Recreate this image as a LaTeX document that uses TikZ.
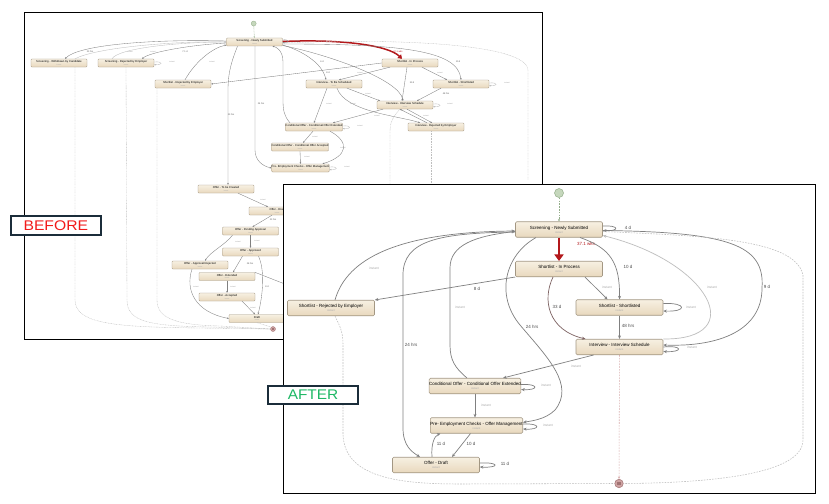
\documentclass[tikz,border=0pt]{standalone}
\usepackage{fontspec}
\setmainfont{Liberation Sans}
\usetikzlibrary{arrows.meta}
\definecolor{boxtop}{HTML}{F7F0E2}
\definecolor{boxbot}{HTML}{E8D8BD}
\definecolor{boxline}{HTML}{A39783}
\definecolor{edgec}{HTML}{808080}
\definecolor{lightc}{HTML}{BEBEBE}
\definecolor{brownc}{HTML}{7D6262}
\definecolor{instc}{HTML}{AAAAAA}
\definecolor{redc}{HTML}{B3181B}
\definecolor{navy}{HTML}{1B2D3A}
\definecolor{beforered}{HTML}{F21B1B}
\definecolor{aftergreen}{HTML}{1EB865}
\definecolor{startfill}{HTML}{C5D7BC}
\definecolor{startline}{HTML}{93AD89}
\definecolor{endfill}{HTML}{CFA3A3}
\definecolor{endline}{HTML}{A07272}
\definecolor{pinkd}{HTML}{D9AFAF}
\newcommand\atxt[1]{#1\\[-1.2pt]{\fontsize{2.6}{3}\selectfont\color{instc}instant}}
\newcommand\btxt[1]{#1\\[-0.8pt]{\fontsize{1.6}{2}\selectfont\color{instc}instant}}
\begin{document}
\begin{tikzpicture}[x=1pt,y=-1pt,
  panel/.style={draw=black,line width=0.9pt,fill=white,inner sep=0pt},
  tagbox/.style={draw=navy,line width=2.2pt,fill=white,inner sep=0pt,minimum width=90pt,minimum height=18.5pt,font=\fontsize{14}{16}\selectfont},
  abox/.style={rectangle,rounded corners=1.3pt,draw=boxline,line width=0.55pt,top color=boxtop,bottom color=boxbot,minimum width=87pt,minimum height=15.5pt,inner sep=0pt,align=center,font=\fontsize{4.5}{5.4}\selectfont},
  bbox/.style={rectangle,rounded corners=0.8pt,draw=boxline,line width=0.35pt,top color=boxtop,bottom color=boxbot,minimum width=56pt,minimum height=8pt,inner sep=0pt,align=center,font=\fontsize{2.8}{3.2}\selectfont},
  startn/.style={circle,draw=startline,fill=startfill,line width=0.5pt,minimum size=9pt,inner sep=0pt},
  endn/.style={circle,draw=endline,fill=endfill,line width=0.5pt,minimum size=8.5pt,inner sep=0pt},
  bstartn/.style={startn,minimum size=5pt,line width=0.3pt},
  bendn/.style={endn,minimum size=5pt,line width=0.3pt},
  ae/.style={draw=edgec,line width=0.7pt,-{Stealth[length=3.6pt,width=3pt]}},
  ale/.style={ae,draw=lightc},
  alab/.style={font=\fontsize{4.5}{5}\selectfont,text=black!70,inner sep=0.5pt},
  ilab/.style={font=\fontsize{3.3}{4}\selectfont,text=instc,inner sep=0.5pt},
  adash/.style={draw=lightc,line width=0.55pt,dash pattern=on 1.6pt off 1.2pt},
  redarrow/.style={draw=redc,line width=2.8pt,-{Triangle[length=6.5pt,width=9pt]}},
  be/.style={draw=edgec,line width=0.35pt,-{Stealth[length=1.9pt,width=1.6pt]}},
  ble/.style={be,draw=lightc},
  blab/.style={font=\fontsize{2.3}{2.6}\selectfont,text=black!65,inner sep=0.3pt},
  bilab/.style={font=\fontsize{1.9}{2.2}\selectfont,text=instc,inner sep=0.3pt},
  bdash/.style={draw=lightc,line width=0.35pt,dash pattern=on 0.9pt off 0.7pt},
  bred/.style={draw=redc,line width=1.5pt,-{Triangle[length=3.8pt,width=5pt]}}
]
\useasboundingbox (0,0) rectangle (829,503);

%================ BEFORE panel ================
\node[panel,minimum width=518pt,minimum height=327pt] (bp) at (283,175.5) {};

\node[bstartn] (bst) at (253.7,23.5) {};
\node[bbox] (bscr) at (254.5,42) {\btxt{Screening - Newly Submitted}};
\node[bbox] (bwd) at (59,63) {\btxt{Screening - Withdrawn by Candidate}};
\node[bbox] (bsre) at (126,63) {\btxt{Screening - Rejected by Employer}};
\node[bbox] (bshr) at (183,84) {\btxt{Shortlist - Rejected by Employer}};
\node[bbox] (bsip) at (410,63) {\btxt{Shortlist - In Process}};
\node[bbox] (bits) at (334,84) {\btxt{Interview - To Be Scheduled}};
\node[bbox] (bssl) at (461,84) {\btxt{Shortlist - Shortlisted}};
\node[bbox] (bivs) at (405,105) {\btxt{Interview - Interview Schedule}};
\node[bbox] (bcoe) at (314,127) {\btxt{Conditional Offer - Conditional Offer Extended}};
\node[bbox] (bire) at (436,127) {\btxt{Interview - Rejected by Employer}};
\node[bbox] (bcoa) at (300,147) {\btxt{Conditional Offer - Conditional Offer Accepted}};
\node[bbox] (bpec) at (300.5,168) {\btxt{Pre- Employment Checks - Offer Management}};
\node[bbox] (bofc) at (226,189) {\btxt{Offer - To be Created}};
\node[bbox] (bof2) at (277,211) {\btxt{Offer - Draft}};
\node[bbox] (bopa) at (250.5,231) {\btxt{Offer - Pending Approval}};
\node[bbox] (boap) at (250.5,252) {\btxt{Offer - Approved}};
\node[bbox] (boar) at (200,265) {\btxt{Offer - Approval Rejected}};
\node[bbox] (boex) at (227,276.5) {\btxt{Offer - Extended}};
\node[bbox] (boac) at (227,297) {\btxt{Offer - Accepted}};
\node[bbox] (bdr) at (257,318.5) {\btxt{Draft}};
\node[bendn] (bend) at (273,329) {};
\fill[endline] ([xshift=-1pt,yshift=-1pt]bend.center) rectangle ([xshift=1pt,yshift=1pt]bend.center);

\draw[bdash,draw=startline,-{Stealth[length=1.5pt,width=1.3pt]}] (bst) -- (bscr);
\draw[be] ([yshift=1pt]bscr.west) .. controls (150,39) and (78,45) .. ([xshift=6pt]bwd.north) node[blab,at={(90,52)}]{23 hrs};
\draw[be] ([yshift=-1pt]bscr.west) .. controls (190,45) and (150,52) .. ([xshift=16pt]bsre.north) node[blab,at={(185,52)}]{7.1 d};
\draw[ble] ([xshift=16pt]bwd.north) .. controls (95,48) and (170,41) .. (bscr.west) node[bilab,at={(130,52)}]{instant};
\draw[ble] ([xshift=-14pt]bsre.north) .. controls (118,48) and (180,42) .. (bscr.west) node[bilab,at={(153,52)}]{instant};
\draw[ble] ([yshift=1pt]bsre.east) .. controls +(9,-1) and +(9,1) .. ([yshift=-1.5pt]bsre.east) node[bilab,at={(172,62)}]{instant};
\draw[be] ([xshift=2pt]bshr.north) .. controls (195,62) and (212,48) .. ([yshift=-3pt]bscr.west) node[bilab,at={(212,62)}]{instant};
\draw[be] (bsip.west) -- (bshr.east) node[blab,at={(328,73)}]{8 d};
\draw[be] ([xshift=0.5pt]bscr.south) -- (255,150) .. controls (255,160) and (262,166) .. (bpec.west) node[blab,at={(261,104)}]{24 hrs};
\draw[be] ([xshift=-17pt]bscr.south) .. controls (233,58) and (228,70) .. (228,90) -- ([xshift=2pt]bofc.north) node[blab,at={(231,115)}]{23 hrs};
\draw[bred] ([yshift=0.5pt]bscr.east) .. controls (340,39) and (388,45) .. ([xshift=-8pt]bsip.north) node[blab,text=redc,at={(398,52)}]{37.1 wks};
\draw[be] ([yshift=2pt]bscr.east) .. controls +(7,-1) and +(7,1) .. ([yshift=-0.5pt]bscr.east) node[blab,at={(297,42)}]{4 d};
\draw[be] ([yshift=-2pt]bscr.east) .. controls (400,44) and (458,50) .. (bssl.north) node[blab,at={(458,62)}]{10 d};
\draw[be] ([yshift=-3pt]bscr.east) .. controls (300,50) and (322,62) .. ([xshift=-8pt]bits.north) node[blab,at={(322,62)}]{6 d};
\draw[be] ([yshift=-3.5pt]bscr.east) .. controls (330,55) and (400,80) .. ([xshift=-2pt]bivs.north);
\draw[bdash] ([yshift=-1pt]bscr.east) .. controls (400,38) and (527,44) .. (528,70) -- (528,180);
\draw[be] ([xshift=-20pt]bsip.south) -- ([xshift=5pt]bits.north) node[bilab,at={(360,73)}]{instant};
\draw[be] ([xshift=12pt]bsip.south) -- ([xshift=-14pt]bssl.north) node[bilab,at={(440,73)}]{instant};
\draw[be] ([xshift=-3pt]bsip.south) -- ([xshift=-3pt]bivs.north) node[blab,at={(412,83)}]{33 d};
\draw[be] ([xshift=-20pt]bssl.south) -- ([xshift=12pt]bivs.north) node[blab,at={(446,94)}]{48 hrs};
\draw[ble] ([yshift=1pt]bssl.east) .. controls +(9,-1) and +(9,1) .. ([yshift=-1.5pt]bssl.east) node[bilab,at={(507,83)}]{instant};
\draw[be] ([xshift=13pt]bits.south) -- ([xshift=-25pt]bivs.north) node[bilab,at={(368,94)}]{instant};
\draw[be] ([xshift=-7pt]bits.south) -- (bcoe.north) node[bilab,at={(329,104)}]{instant};
\draw[be] ([xshift=3pt]bits.south) .. controls (345,112) and (400,116) .. ([xshift=-16pt]bire.north) node[bilab,at={(353,104)}]{instant};
\draw[be] ([xshift=-22pt]bivs.south) -- ([xshift=19pt]bcoe.north) node[bilab,at={(377,116)}]{instant};
\draw[be] ([xshift=2pt]bivs.south) -- ([xshift=-4pt]bire.north) node[bilab,at={(426,116)}]{instant};
\draw[be] ([xshift=-9pt]bire.north) -- ([xshift=-5pt]bivs.south);
\draw[ble] ([yshift=1pt]bivs.east) .. controls +(9,-1) and +(9,1) .. ([yshift=-1.5pt]bivs.east) node[bilab,at={(450,104)}]{instant};
\draw[ble] ([yshift=1pt]bcoe.east) .. controls +(9,-1) and +(9,1) .. ([yshift=-1.5pt]bcoe.east) node[bilab,at={(360,126)}]{instant};
\draw[be] ([xshift=-1pt]bcoe.south) -- ([xshift=3pt]bcoa.north) node[bilab,at={(315,137)}]{instant};
\draw[be] (bcoa.south) -- (bpec.north) node[bilab,at={(307,157)}]{instant};
\draw[be] ([xshift=16pt]bcoe.south) .. controls (350,142) and (348,156) .. ([xshift=22pt]bpec.north) node[bilab,at={(343,148)}]{instant};
\draw[ble] ([yshift=1pt]bpec.east) .. controls +(9,-1) and +(9,1) .. ([yshift=-1.5pt]bpec.east) node[bilab,at={(347,167)}]{instant};
\draw[be] ([xshift=-24pt]bcoe.north) .. controls (284,116) and (283,110) .. (283,100) -- (283,62) .. controls (283,50) and (276,47) .. ([xshift=18pt]bscr.south);
\draw[bdash] ([xshift=-5pt]bivs.south) .. controls (390,120) and (390,125) .. (390,135) -- (390,185);
\draw[bdash] ([xshift=-5pt]bire.south) .. controls (431,140) and (431,145) .. (431,150) -- (431,185);
% left dashed lines to end
\draw[bdash] ([xshift=16pt]bwd.south) -- (75,300) .. controls (75,325) and (120,327) .. (200,328) -- (bend.west);
\draw[bdash] (bsre.south) -- (127,300) .. controls (127,322) and (150,326) .. (210,327) -- (bend.west);
\draw[bdash] ([xshift=-26pt]bshr.south) -- (157,300) .. controls (157,318) and (175,325) .. (220,326) -- (bend.west);
% offer chain
\draw[be] ([xshift=12pt]bofc.south) -- ([xshift=-9pt]bof2.north) node[bilab,at={(263,200)}]{instant};
\draw[be] ([xshift=-5pt]bof2.south) -- ([xshift=2pt]bopa.north) node[blab,at={(273,220)}]{23 hrs};
\draw[be] (bopa.south) -- (boap.north) node[bilab,at={(257,241)}]{instant};
\draw[be] ([xshift=-18pt]bopa.south) .. controls (225,245) and (210,252) .. ([xshift=5pt]boar.north) node[bilab,at={(238,242)}]{instant};
\draw[be] ([xshift=-8pt]boap.south) -- ([xshift=6pt]boex.north) node[blab,at={(250,264)}]{28 hrs};
\draw[be] (boex.south) -- (boac.north) node[bilab,at={(233,287)}]{instant};
\draw[be] ([xshift=8pt]boap.south) .. controls (265,270) and (263,295) .. ([xshift=1pt]bdr.north);
\draw[be] ([xshift=15pt]boac.south) -- ([xshift=-2pt]bdr.north) node[bilab,at={(253,308)}]{instant};
\draw[be] ([xshift=-8pt]boar.south) .. controls (185,290) and (195,312) .. (bdr.west) node[bilab,at={(196,287)}]{instant};
\draw[be] ([xshift=28pt]boex.north) -- (290,286) node[blab,at={(267,287)}]{8 d};
\draw[bdash] (bdr.south) -- (bend.north west);

%================ AFTER panel ================
\node[panel,minimum width=532pt,minimum height=309pt] (ap) at (549,338.5) {};

\node[startn] (ast) at (559,193) {};
\node[abox] (ascr) at (559,229.5) {\atxt{Screening - Newly Submitted}};
\node[abox] (asip) at (559,269) {\atxt{Shortlist - In Process}};
\node[abox] (asrej) at (331,308) {\atxt{Shortlist - Rejected by Employer}};
\node[abox] (assl) at (619.5,307.5) {\atxt{Shortlist - Shortlisted}};
\node[abox] (aivs) at (619.5,347) {\atxt{Interview - Interview Schedule}};
\node[abox] (acoe) at (475,386) {\atxt{Conditional Offer - Conditional Offer Extended}};
\node[abox] (apec) at (476.5,425.5) {\atxt{Pre- Employment Checks - Offer Management}};
\node[abox] (aofd) at (436,465) {\atxt{Offer - Draft}};
\node[endn] (aend) at (619,483.5) {};
\fill[endline] ([xshift=-1.8pt,yshift=-1.8pt]aend.center) rectangle ([xshift=1.8pt,yshift=1.8pt]aend.center);

\draw[adash,draw=startline,-{Stealth[length=2.6pt,width=2.2pt]}] (ast) -- (ascr);
\draw[redarrow] (ascr) -- (asip) node[alab,text=redc,at={(586,244)}]{37.1 wks};
\draw[ae] ([yshift=3.5pt]ascr.east) .. controls +(17,-1) and +(17,1) .. ([yshift=-1pt]ascr.east) node[alab,at={(628,228)}]{4 d};
\draw[ae] ([xshift=21pt]ascr.south) .. controls (610,248) and (620,262) .. (assl.north) node[alab,at={(628,267)}]{10 d};
\draw[ae] ([xshift=26pt]asip.south) -- ([xshift=-12pt]assl.north) node[ilab,at={(607,287)}]{instant};
\draw[ae] (asip.south west) -- (asrej.north east) node[alab,at={(477,289)}]{8 d};
\draw[ae] ([xshift=4pt]asrej.north) .. controls (345,265) and (385,232) .. ([yshift=-1.5pt]ascr.west) node[ilab,at={(374,268)}]{instant};
\draw[ae] ([yshift=-2.5pt]ascr.west) .. controls (440,233) and (403,240) .. (403,275) -- (403,428) .. controls (403,446) and (412,452) .. ([xshift=-16pt]aofd.north) node[alab,at={(411,345)}]{24 hrs};
\draw[ae] ([xshift=-8pt]acoe.north) .. controls (455,368) and (450,360) .. (450,345) -- (450,268) .. controls (450,245) and (475,236) .. ([yshift=-2pt]ascr.west) node[ilab,at={(460,307)}]{instant};
\draw[ae] ([xshift=-23pt]ascr.south) .. controls (505,255) and (495,295) .. (520,325) .. controls (548,358) and (575,385) .. (555,410) .. controls (545,420) and (530,421) .. ([yshift=3pt]apec.east) node[alab,at={(532,327)}]{24 hrs};
\draw[ae,draw=brownc] ([xshift=-6pt]asip.south) .. controls (542,300) and (548,330) .. ([xshift=-34pt]aivs.north) node[alab,at={(557,307)}]{33 d};
\draw[ae] ([yshift=4pt]assl.east) .. controls +(24,-1) and +(24,1) .. ([yshift=-3.5pt]assl.east) node[ilab,at={(691,307)}]{instant};
\draw[ae] (assl) -- (aivs) node[alab,at={(628,326)}]{48 hrs};
\draw[ale] (aivs.north east) .. controls (750,340) and (710,262) .. ([yshift=-6pt]ascr.east) node[ilab,at={(712,287)}]{instant};
\draw[ae] ([yshift=-1pt]ascr.east) .. controls (730,232) and (765,245) .. (762,288) .. controls (762,330) and (720,347) .. ([yshift=2pt]aivs.east) node[alab,at={(767,287)}]{9 d};
\draw[ae] (aivs.east) .. controls +(20,-2) and +(20,1) .. ([yshift=-4.5pt]aivs.east) node[ilab,at={(692,347)}]{instant};
\draw[ae] ([xshift=-26pt]aivs.south) -- ([xshift=28pt]acoe.north) node[ilab,at={(576,366)}]{instant};
\draw[adash,draw=pinkd,-{Stealth[length=2.6pt,width=2.2pt]}] (aivs) -- (aend);
\draw[adash] ([yshift=-2pt]ascr.east) .. controls (700,236) and (795,238) .. (803,275) -- (803,440) .. controls (803,478) and (690,483) .. (aend.east);
\draw[adash] ([xshift=4pt]asrej.south) .. controls (339,325) and (343,330) .. (343,345) -- (343,435) .. controls (345,478) and (400,484) .. (460,484) -- (aend.west);
\draw[ae] (acoe.south) -- ([xshift=-1.5pt]apec.north) node[ilab,at={(486,405)}]{instant};
\draw[ae] ([yshift=1.5pt]acoe.east) .. controls +(18,-1) and +(18,1) .. ([yshift=-3.5pt]acoe.east) node[ilab,at={(546,385)}]{instant};
\draw[ae] ([yshift=1.5pt]apec.east) .. controls +(18,-1) and +(18,1) .. ([yshift=-3.5pt]apec.east) node[ilab,at={(548,425)}]{instant};
\draw[ae] ([xshift=-4pt]aofd.north) .. controls (431,445) and (434,436) .. ([xshift=-36pt]apec.south) node[alab,at={(441,444)}]{11 d};
\draw[ae] ([xshift=-6pt]apec.south) -- ([xshift=16pt]aofd.north) node[alab,at={(471,444)}]{10 d};
\draw[ae] ([yshift=2pt]aofd.east) .. controls +(20,-1) and +(20,1) .. ([yshift=-2pt]aofd.east) node[alab,at={(505,464)}]{11 d};

%================ tags ================
\node[tagbox,text=beforered] (btag) at (55.8,225.5) {\scalebox{1.12}[1]{BEFORE}};
\node[tagbox,text=aftergreen] (atag) at (313,395) {\scalebox{1.1}[1]{AFTER}};
\end{tikzpicture}
\end{document}
